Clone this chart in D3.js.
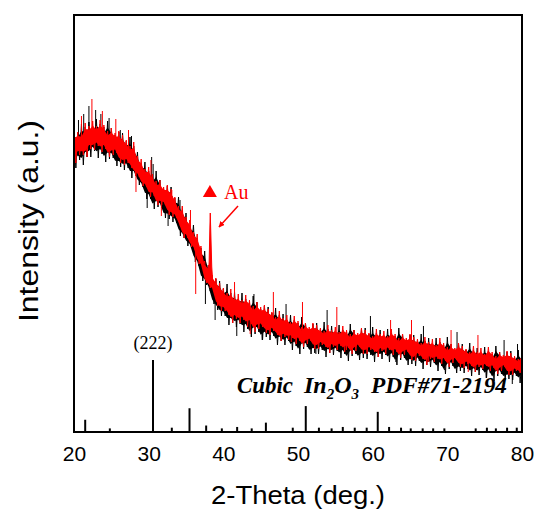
<!DOCTYPE html>
<html>
<head>
<meta charset="utf-8">
<script src="https://cdn.jsdelivr.net/npm/d3@7"></script>
<style>
  body { margin: 0; background: #fff; }
  svg { display: block; }
</style>
</head>
<body>
<div id="chart"></div>
<script>
// XRD patterns (a.u.), one value every 0.5 deg from 20 to 80
const startAngle = 20, angleStep = 0.5;

// black pattern: upper and lower edge of the noise band
const blackHigh = [
  301,299,308,305,310,306,313,308,305,311,
  304,297,300,299,291,295,286,280,268,270,
  261,256,261,252,243,246,245,234,235,222,
  219,207,207,194,184,181,167,155,153,151,
  143,148,139,140,133,139,133,130,136,130,
  123,126,125,119,124,117,118,112,117,112,
  109,115,109,103,108,109,103,110,103,106,
  100,107,102,100,108,102,97,103,104,98,
  105,99,102,96,103,99,96,104,98,92,
  97,97,92,98,91,94,88,94,90,87,
  95,88,82,88,88,82,89,82,84,79,
  85,81,78,86,80,75,80,81,75,82,
  76];
const blackLow = [
  264,272,267,275,275,281,274,278,270,273,
  274,266,265,262,264,254,256,247,245,233,
  233,223,225,224,214,213,210,209,196,194,
  186,184,170,166,151,147,141,128,122,116,
  116,107,109,105,108,100,103,95,98,100,
  92,95,92,96,87,91,87,91,82,86,
  78,83,85,78,79,78,82,75,79,77,
  81,74,78,71,76,78,72,74,73,77,
  70,75,73,77,70,75,67,72,74,67,
  68,66,71,63,67,65,69,61,66,58,
  63,66,59,61,59,63,56,60,57,62,
  54,59,51,56,58,52,53,52,56,49,
  54];

// red pattern
const redHigh = [
  299,300,299,309,306,311,306,312,307,301,
  304,299,301,297,292,286,290,276,273,263,
  265,258,251,252,245,247,243,235,226,226,
  215,212,200,198,186,171,167,157,154,149,
  144,139,143,136,138,132,137,132,126,130,
  125,127,123,120,115,121,114,117,110,116,
  111,105,109,105,109,107,104,101,107,102,
  105,100,106,102,98,102,99,104,102,99,
  96,103,98,101,96,103,98,94,98,94,
  98,95,93,89,95,90,93,87,94,89,
  85,88,84,89,86,83,80,86,80,84,
  78,85,80,76,80,77,81,79,76,73,
  80];
const redLow = [
  269,277,277,275,283,282,286,280,283,275,
  277,279,269,267,269,264,256,255,246,245,
  235,236,227,227,227,217,215,214,206,194,
  194,185,182,168,164,149,144,141,126,121,
  121,117,109,113,109,112,105,108,100,103,
  105,99,97,101,97,91,95,92,94,88,
  91,85,88,91,83,83,87,85,79,85,
  82,86,80,84,78,81,85,78,78,82,
  80,75,81,78,82,77,80,74,77,80,
  72,71,76,73,67,73,70,73,68,71,
  65,69,72,65,64,68,66,60,65,63,
  66,61,64,58,61,65,57,57,61,59,
  54];

// single spikes sticking out of the bands: [2theta, intensity]
const blackSpikes = [[20.6,312],[21.3,318],[22.0,326],[22.9,322],[23.6,318],[24.7,314],[26.2,302],
  [27.7,296],[29.8,224],[30.4,275],[30.6,268],[32.6,206],[34.2,232],[37.6,128],[38.9,112],
  [41.8,96],[44.1,138],[45.2,92],[48.4,128],[52.4,78],[53.9,122],[57.3,78],[59.7,116],
  [63.1,70],[66.8,106],[69.6,62],[71.3,100],[75.2,54],[77.6,92],[78.7,48],[79.4,88]];
const redSpikes = [[21.0,316],[22.4,333],[23.8,321],[25.6,313],[27.3,302],[28.3,240],[30.3,272],
  [31.7,216],[33.1,242],[35.6,222],[36.3,138],[41.5,150],[43.6,98],[46.7,140],[49.1,90],
  [50.6,130],[55.2,125],[56.5,82],[62.4,112],[65.2,112],[67.5,70],[70.5,102],[72.8,60],[74.1,97]];

// Au (111) reflection on the red pattern
const auAngles = [37.95, 38.1, 38.2, 38.25, 38.32, 38.45, 38.6];
const auIntensity = [150, 170, 205, 219, 200, 165, 148];

// In2O3 PDF#71-2194 reference lines (relative intensity)
const pdfAngles = [21.5,24.8,30.58,33.1,35.47,37.7,39.8,41.85,43.8,45.7,49.3,51.04,52.8,54.5,56.0,
  57.6,59.2,60.68,62.2,63.8,65.1,66.7,68.1,69.6,73.8,75.3,76.5,78.0,79.3];
const pdfIntensity = [17,5,100,6,33,9,5,7,5,13,6,36,6,5,7,6,6,28,7,6,5,5,5,5,5,6,5,6,6];

const xTicks = [20, 30, 40, 50, 60, 70, 80];

const width = 539, height = 509;
const plot = {left: 74, right: 522, top: 15, bottom: 432};

const svg = d3.select('#chart').append('svg')
  .attr('width', width)
  .attr('height', height);

const x = d3.scaleLinear().domain([20, 80]).range([plot.left, plot.right]);
const y = d3.scaleLinear().domain([0, 417]).range([plot.bottom, plot.top]);
const stickY = d3.scaleLinear().domain([0, 100]).range([plot.bottom, plot.bottom - 72]);

svg.append('clipPath').attr('id', 'clip')
  .append('rect')
  .attr('x', plot.left).attr('y', plot.top)
  .attr('width', plot.right - plot.left).attr('height', plot.bottom - plot.top);

const g = svg.append('g').attr('clip-path', 'url(#clip)');

function band(high, low) {
  return high.map((h, i) => ({angle: startAngle + i * angleStep, high: h, low: low[i]}));
}
const blackBand = band(blackHigh, blackLow);
const redBand = band(redHigh, redLow);

// solid core of the band
const core = d3.area()
  .x(d => x(d.angle))
  .y0(d => y((d.high + d.low) / 2 - (d.high - d.low) * 0.33))
  .y1(d => y((d.high + d.low) / 2 + (d.high - d.low) * 0.33));

// noisy trace: jump between upper and lower edge
const trace = d3.line()
  .x(d => x(d[0]))
  .y(d => y(d[1]));

function zigzag(data) {
  const pts = [];
  data.forEach(d => {
    pts.push([d.angle, d.high]);
    pts.push([d.angle + angleStep / 2, d.low]);
  });
  return pts;
}

function middle(data, angle) {
  const i = Math.max(0, Math.min(data.length - 1, Math.round((angle - startAngle) / angleStep)));
  return (data[i].high + data[i].low) / 2;
}

function drawPattern(data, spikes, color) {
  g.append('path').datum(data)
    .attr('d', core)
    .attr('fill', color);
  g.append('path').datum(zigzag(data))
    .attr('d', trace)
    .attr('fill', 'none')
    .attr('stroke', color)
    .attr('stroke-width', 1);
  g.selectAll(null)
    .data(spikes)
    .enter()
    .append('line')
    .attr('x1', d => x(d[0])).attr('x2', d => x(d[0]))
    .attr('y1', d => y(middle(data, d[0])))
    .attr('y2', d => y(d[1]))
    .attr('stroke', color)
    .attr('stroke-width', 1);
}

drawPattern(blackBand, blackSpikes, '#000');
drawPattern(redBand, redSpikes, '#ff0000');

const auPeak = d3.area()
  .x((d, i) => x(d))
  .y0(y(150))
  .y1((d, i) => y(auIntensity[i]));
g.append('path').datum(auAngles)
  .attr('d', auPeak)
  .attr('fill', '#ff0000')
  .attr('stroke', '#ff0000')
  .attr('stroke-width', 1);

// reference sticks
g.selectAll('.stick')
  .data(pdfAngles)
  .enter()
  .append('line')
  .attr('class', 'stick')
  .attr('x1', d => x(d)).attr('x2', d => x(d))
  .attr('y1', plot.bottom)
  .attr('y2', (d, i) => stickY(pdfIntensity[i]))
  .attr('stroke', '#000')
  .attr('stroke-width', 2);

// x axis labels (no tick marks)
const xAxis = svg.append('g')
  .attr('transform', `translate(0,${plot.bottom})`)
  .call(d3.axisBottom(x).tickValues(xTicks).tickSize(0).tickPadding(14));
xAxis.select('.domain').remove();
xAxis.selectAll('text')
  .style('font-family', '"Liberation Sans", Arial, sans-serif')
  .style('font-size', '21px')
  .attr('fill', '#000');

// frame
svg.append('rect')
  .attr('x', plot.left).attr('y', plot.top)
  .attr('width', plot.right - plot.left).attr('height', plot.bottom - plot.top)
  .attr('fill', 'none')
  .attr('stroke', '#000')
  .attr('stroke-width', 2);

// axis titles
svg.append('text')
  .attr('x', (plot.left + plot.right) / 2)
  .attr('y', 504)
  .attr('text-anchor', 'middle')
  .attr('textLength', 174).attr('lengthAdjust', 'spacingAndGlyphs')
  .style('font-family', '"Liberation Sans", Arial, sans-serif')
  .style('font-size', '25px')
  .text('2-Theta (deg.)');

svg.append('text')
  .attr('transform', 'translate(38,221) rotate(-90)')
  .attr('text-anchor', 'middle')
  .attr('textLength', 202).attr('lengthAdjust', 'spacingAndGlyphs')
  .style('font-family', '"Liberation Sans", Arial, sans-serif')
  .style('font-size', '27px')
  .text('Intensity (a.u.)');

// annotations
const serif = '"Liberation Serif", "Times New Roman", serif';

svg.append('text')
  .attr('x', x(30.58))
  .attr('y', 349)
  .attr('text-anchor', 'middle')
  .style('font-family', serif)
  .style('font-size', '18px')
  .text('(222)');

svg.append('path')
  .attr('d', d3.symbol(d3.symbolTriangle, 85)())
  .attr('transform', `translate(${x(38.2)},193)`)
  .attr('fill', '#ff0000');

svg.append('text')
  .attr('x', 224)
  .attr('y', 199)
  .style('font-family', serif)
  .style('font-size', '20px')
  .attr('fill', '#ff0000')
  .text('Au');

svg.append('defs').append('marker')
  .attr('id', 'arrow')
  .attr('viewBox', '0 0 10 10')
  .attr('refX', 9).attr('refY', 5)
  .attr('markerWidth', 4).attr('markerHeight', 4)
  .attr('orient', 'auto')
  .append('path')
  .attr('d', 'M0,0 L10,5 L0,10 z')
  .attr('fill', '#ff0000');

svg.append('line')
  .attr('x1', 238).attr('y1', 206)
  .attr('x2', 219).attr('y2', 227)
  .attr('stroke', '#ff0000')
  .attr('stroke-width', 1.5)
  .attr('marker-end', 'url(#arrow)');

const labelStyle = sel => sel
  .style('font-family', serif)
  .style('font-size', '24px')
  .style('font-weight', 'bold')
  .style('font-style', 'italic');

svg.append('text').call(labelStyle)
  .attr('x', 237).attr('y', 393)
  .attr('textLength', 56).attr('lengthAdjust', 'spacingAndGlyphs')
  .text('Cubic');

const formula = svg.append('text').call(labelStyle)
  .attr('x', 304).attr('y', 393);
formula.append('tspan').text('In');
formula.append('tspan').attr('dy', 6).style('font-size', '15px').text('2');
formula.append('tspan').attr('dy', -6).text('O');
formula.append('tspan').attr('dy', 6).style('font-size', '15px').text('3');

svg.append('text').call(labelStyle)
  .attr('x', 371).attr('y', 393)
  .attr('textLength', 136).attr('lengthAdjust', 'spacingAndGlyphs')
  .text('PDF#71-2194');
</script>
</body>
</html>
